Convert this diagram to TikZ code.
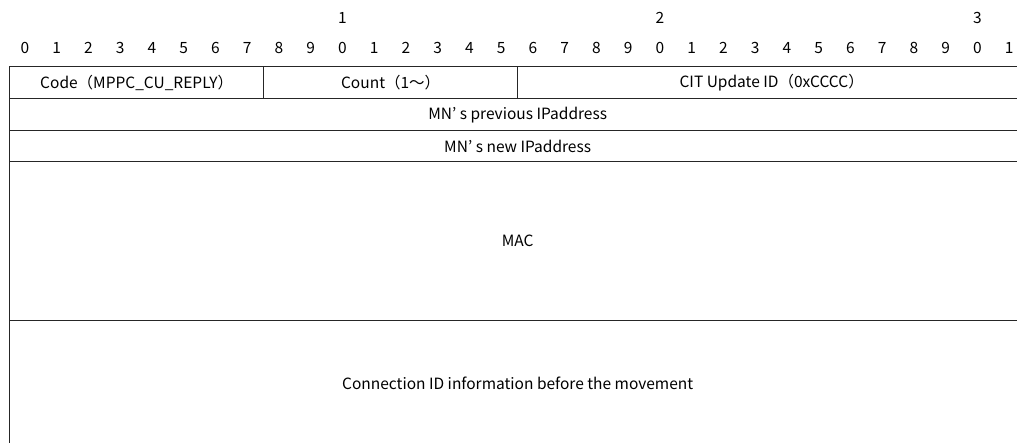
\documentclass[tikz,border=0pt]{standalone}
\usepackage{fontspec}
\setmainfont{Noto Sans CJK JP}
\begin{document}
\begin{tikzpicture}[x=1pt,y=-1pt,
  field/.style={draw=black!85,line width=1.3pt,rectangle,inner sep=0pt,anchor=north west,
    font=\fontsize{15.5}{17}\selectfont},
  bitnum/.style={inner sep=0pt,font=\fontsize{15.5}{17}\selectfont}]
\useasboundingbox (0,0) rectangle (1017,443);
\clip (0,0) rectangle (1017,443);
% bit width
\def\bw{31.75}
% upper row of tens digits
\node[bitnum] (t1) at ({9+\bw*10.5},18) {1};
\node[bitnum] (t2) at ({9+\bw*20.5},18) {2};
\node[bitnum] (t3) at ({9+\bw*30.5},18) {3};
% bit numbers
\foreach \i in {0,...,31}{
  \pgfmathtruncatemacro{\d}{mod(\i,10)}
  \node[bitnum] (b\i) at ({9+\bw*(\i+0.5)},48) {\d};
}
% header word
\node[field,minimum width=254pt,minimum height=32pt] (code) at (9,66) {Code（MPPC\_CU\_REPLY）};
\node[field,minimum width=254pt,minimum height=32pt] (count) at (263,66) {Count（1〜）};
\node[field,minimum width=508pt,minimum height=32pt] (cit) at (517,66) {CIT Update ID（0xCCCC）};
% address words
\node[field,minimum width=1016pt,minimum height=32pt] (prev) at (9,98) {MN’ s previous IPaddress};
\node[field,minimum width=1016pt,minimum height=31pt] (new) at (9,130) {MN’ s new IPaddress};
% MAC
\node[field,minimum width=1016pt,minimum height=159pt] (mac) at (9,161) {MAC};
% connection ID block
\node[field,minimum width=1016pt,minimum height=126pt] (conn) at (9,320) {Connection ID information before the movement};
\end{tikzpicture}
\end{document}
